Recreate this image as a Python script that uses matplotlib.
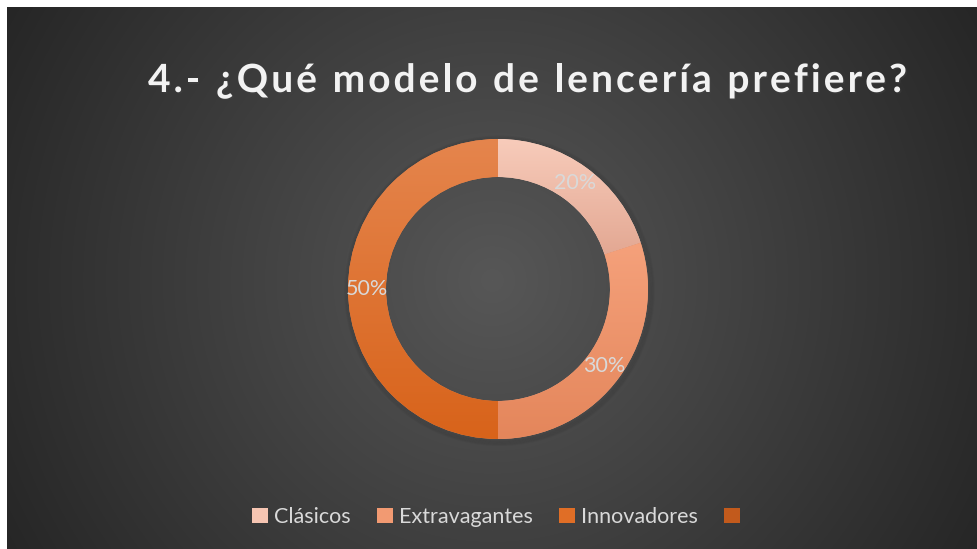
import numpy as np
import matplotlib
matplotlib.use("Agg")
import matplotlib.pyplot as plt
from matplotlib.patches import Patch, Circle
from matplotlib.colors import LinearSegmentedColormap
import matplotlib.patheffects as pe

# ---------------- data ----------------
title = "4.- ¿Qué modelo de lencería prefiere?"
categories = ["Clásicos", "Extravagantes", "Innovadores", ""]
values = [20, 30, 50]
slice_colors_top = ["#F8CCBB", "#F5A17B", "#E5854D"]
slice_colors_bottom = ["#E3A893", "#E4865B", "#D8631A"]
legend_colors = ["#F6C5B2", "#F29A72", "#E06E26", "#C25A1C"]

W_PX, H_PX = 978, 549
DPI = 100
FONT = "Lato"

fig = plt.figure(figsize=(W_PX / DPI, H_PX / DPI), dpi=DPI)
fig.patch.set_facecolor("white")

# ---------------- background (radial gradient) ----------------
left_m, top_m = 7, 7
bw, bh = W_PX - left_m, H_PX - top_m
bg = fig.add_axes([left_m / W_PX, 0, bw / W_PX, bh / H_PX])
jj, ii = np.meshgrid(np.arange(bw) + left_m, np.arange(bh) + top_m)
dist = np.hypot(jj - 492, ii - 280)
lev = np.clip(87 - 0.088 * dist, 30, 90) / 255.0
bg.imshow(np.dstack([lev, lev, lev]), aspect="auto", interpolation="bilinear",
          extent=(0, 1, 0, 1), origin="upper")
bg.set_xlim(0, 1); bg.set_ylim(0, 1)
bg.axis("off")

# ---------------- donut ----------------
cx, cy, R = 498, 289, 150
ax = fig.add_axes([(cx - 1.1 * R) / W_PX, (H_PX - cy - 1.1 * R) / H_PX,
                   2.2 * R / W_PX, 2.2 * R / H_PX])
ax.axis("off")

ring_w = 38 / 150
# soft outer shadow
for k in range(5):
    ax.add_patch(Circle((0.01, -0.012), 1.0 + 0.007 * k, facecolor="none",
                        edgecolor="black", lw=1.5, alpha=0.035, zorder=1))
wedges, texts, autotexts = ax.pie(
    values, radius=1.0, startangle=90, counterclock=False,
    colors=slice_colors_top, wedgeprops=dict(width=ring_w, edgecolor="none"),
    autopct=lambda p: f"{p:.0f}%", pctdistance=1 - ring_w / 2,
    textprops=dict(color="#D9D9D9", fontsize=15.5, family=FONT))
ax.set_xlim(-1.1, 1.1); ax.set_ylim(-1.1, 1.1)

for w, ctop, cbot in zip(wedges, slice_colors_top, slice_colors_bottom):
    ext = w.get_path().get_extents()
    cmap = LinearSegmentedColormap.from_list("g", [cbot, ctop])
    grad = np.linspace(0, 1, 256).reshape(-1, 1)
    im = ax.imshow(grad, cmap=cmap, origin="lower", aspect="auto",
                   extent=(ext.x0, ext.x1, ext.y0, ext.y1), zorder=2,
                   interpolation="bilinear")
    im.set_clip_path(w)
for t in autotexts:
    t.set_zorder(5)
ax.set_xlim(-1.1, 1.1); ax.set_ylim(-1.1, 1.1)

# ---------------- title with letter spacing ----------------
renderer = fig.canvas.get_renderer()
tsize = 28
def text_w(s):
    t = fig.text(0, 0, s, fontsize=tsize, family=FONT, weight="bold")
    w = t.get_window_extent(renderer).width
    t.remove()
    return w
ref = text_w("x")
positions = [0.0] + [text_w(title[:k] + "x") - ref for k in range(1, len(title))]
natural = text_w(title)
target_left, target_right = 148, 907
n = len(title)
sp = (target_right - target_left - natural) / (n - 1)
base_y = 1 - 92 / H_PX
for k, ch in enumerate(title):
    if ch == " ":
        continue
    x = (target_left + positions[k] + k * sp) / W_PX
    fig.text(x, base_y, ch, fontsize=tsize, family=FONT, weight="bold",
             color="#F2F2F2", ha="left", va="baseline",
             path_effects=[pe.SimplePatchShadow(offset=(1.0, -1.0), alpha=0.35),
                           pe.Normal()])

# ---------------- legend ----------------
handles = [Patch(facecolor=c, edgecolor="none") for c in legend_colors]
leg = fig.legend(handles, categories, loc="center", ncol=4,
                 bbox_to_anchor=(499 / W_PX, 1 - 517 / H_PX), frameon=False,
                 prop=dict(family=FONT, size=15.5), labelcolor="#D9D9D9",
                 handlelength=0.74, handleheight=0.74, handletextpad=0.3,
                 columnspacing=1.2)

fig.savefig("out.png", dpi=DPI, facecolor=fig.get_facecolor())
